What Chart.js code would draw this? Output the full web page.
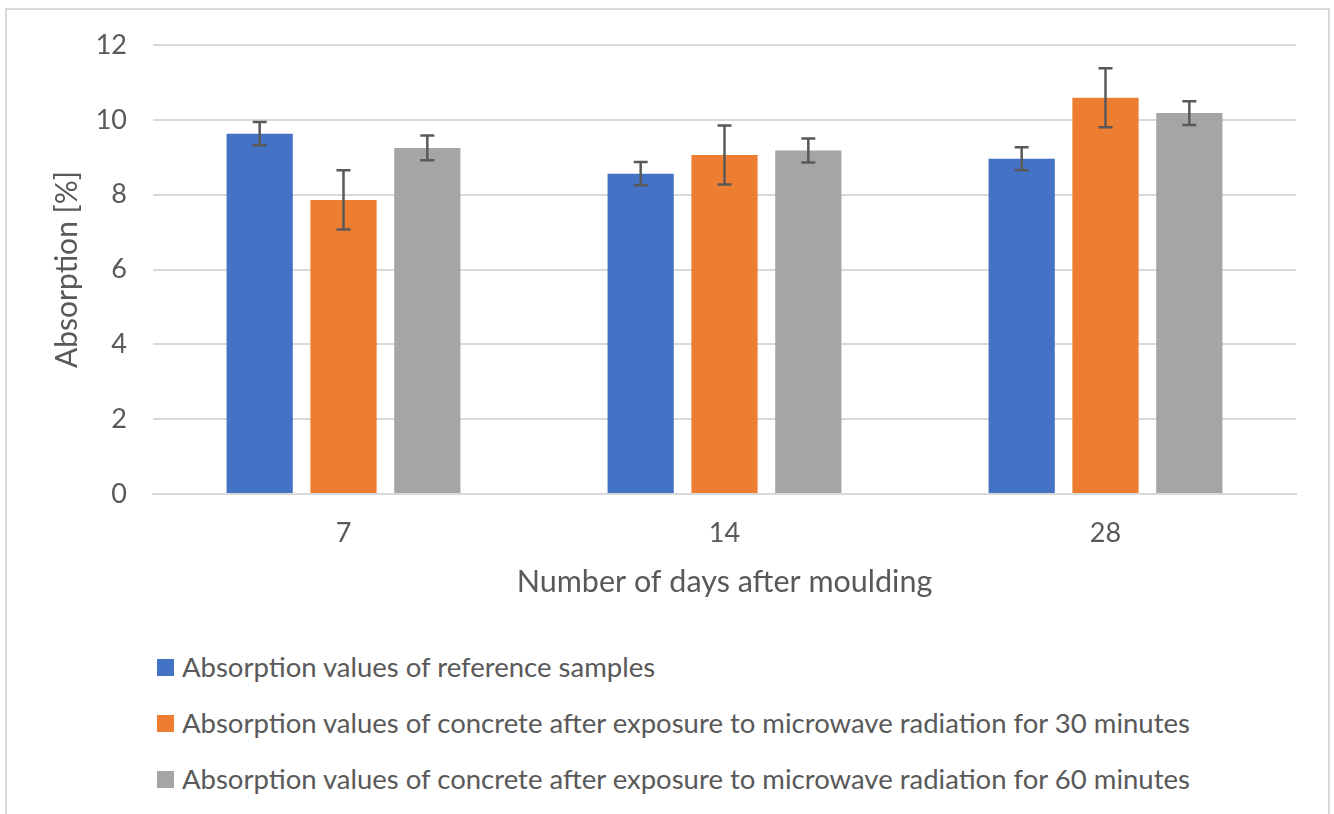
<!doctype html>
<html lang="en">
<head>
    <meta charset="UTF-8" />
    <title>Absorption</title>
    <style>
        body {
            margin: 0;
            background: #fff;
            font-family: 'Lato', sans-serif;
        }
        .frame {
            position: absolute;
            left: 5px;
            top: 8px;
            width: 1325px;
            height: 830px;
            border: 2px solid #d9d9d9;
            box-sizing: border-box;
        }
        .chart-container {
            position: absolute;
            left: 0;
            top: 0;
            width: 1334px;
            height: 620px;
        }
        .legend {
            position: absolute;
            left: 157px;
            top: 650px;
            color: #595959;
            font-size: 27.5px;
            line-height: 33px;
        }
        .legend div {
            height: 56px;
            display: flex;
            align-items: flex-start;
            white-space: nowrap;
        }
        .legend span.box {
            display: inline-block;
            flex: none;
            width: 17px;
            height: 17px;
            margin-top: 9px;
            margin-right: 8px;
        }
    </style>
</head>
<body>
    <div class="frame"></div>
    <div class="chart-container">
        <canvas id="absChart"></canvas>
    </div>
    <div class="legend" id="legend"></div>

    <script src="https://cdn.jsdelivr.net/npm/chart.js"></script>
    <script>
        const days = ['7', '14', '28'];
        const seriesNames = [
            'Absorption values of reference samples',
            'Absorption values of concrete after exposure to microwave radiation for 30 minutes',
            'Absorption values of concrete after exposure to microwave radiation for 60 minutes'
        ];
        const reference = [9.63, 8.56, 8.96];
        const micro30 = [7.86, 9.06, 10.59];
        const micro60 = [9.25, 9.18, 10.18];
        const referenceErr = [0.31, 0.31, 0.31];
        const micro30Err = [0.79, 0.79, 0.79];
        const micro60Err = [0.33, 0.32, 0.32];
        const colors = ['#4472c4', '#ed7d31', '#a5a5a5'];

        const values = [reference, micro30, micro60];
        const errors = [referenceErr, micro30Err, micro60Err];

        // error bars drawn from the bar elements and the y scale
        const errorBars = {
            id: 'errorBars',
            afterDatasetsDraw(chart) {
                const ctx = chart.ctx;
                const y = chart.scales.y;
                ctx.save();
                ctx.strokeStyle = '#595959';
                ctx.lineWidth = 2.5;
                chart.data.datasets.forEach((ds, i) => {
                    chart.getDatasetMeta(i).data.forEach((bar, j) => {
                        const v = ds.data[j], e = errors[i][j];
                        const top = y.getPixelForValue(v + e);
                        const bot = y.getPixelForValue(v - e);
                        ctx.beginPath();
                        ctx.moveTo(bar.x, top); ctx.lineTo(bar.x, bot);
                        ctx.moveTo(bar.x - 7, top); ctx.lineTo(bar.x + 7, top);
                        ctx.moveTo(bar.x - 7, bot); ctx.lineTo(bar.x + 7, bot);
                        ctx.stroke();
                    });
                });
                ctx.restore();
            }
        };

        const ctx = document.getElementById('absChart').getContext('2d');
        new Chart(ctx, {
            type: 'bar',
            data: {
                labels: days,
                datasets: values.map((v, i) => ({
                    label: seriesNames[i],
                    data: v,
                    backgroundColor: colors[i],
                    categoryPercentage: 0.66,
                    barPercentage: 0.79
                }))
            },
            options: {
                responsive: true,
                maintainAspectRatio: false,
                animation: false,
                layout: { padding: { top: 45, right: 38, left: 0, bottom: 0 } },
                plugins: {
                    legend: { display: false },
                    tooltip: { enabled: false }
                },
                scales: {
                    x: {
                        afterFit(scale) { scale.height = 126; },
                        grid: { display: false, drawTicks: false },
                        border: { display: true, color: '#d9d9d9', width: 2 },
                        ticks: { color: '#595959', font: { family: 'Lato', size: 27 }, padding: 23 },
                        title: {
                            display: true,
                            text: 'Number of days after moulding',
                            color: '#595959',
                            font: { family: 'Lato', size: 30.5 },
                            padding: { top: 0, bottom: 20 }
                        }
                    },
                    y: {
                        min: 0,
                        max: 12,
                        afterFit(scale) { scale.width = 153; },
                        ticks: { stepSize: 2, color: '#595959', font: { family: 'Lato', size: 27 }, padding: 26 },
                        grid: { color: '#d9d9d9', lineWidth: 2, drawTicks: false },
                        border: { display: false },
                        title: {
                            display: true,
                            text: 'Absorption [%]',
                            color: '#595959',
                            font: { family: 'Lato', size: 30 },
                            padding: { top: 49, bottom: 0 }
                        }
                    }
                }
            },
            plugins: [errorBars]
        });

        const legend = document.getElementById('legend');
        seriesNames.forEach((name, i) => {
            const row = document.createElement('div');
            row.innerHTML = '<span class="box" style="background:' + colors[i] + '"></span>' + name;
            legend.appendChild(row);
        });
    </script>
</body>
</html>
